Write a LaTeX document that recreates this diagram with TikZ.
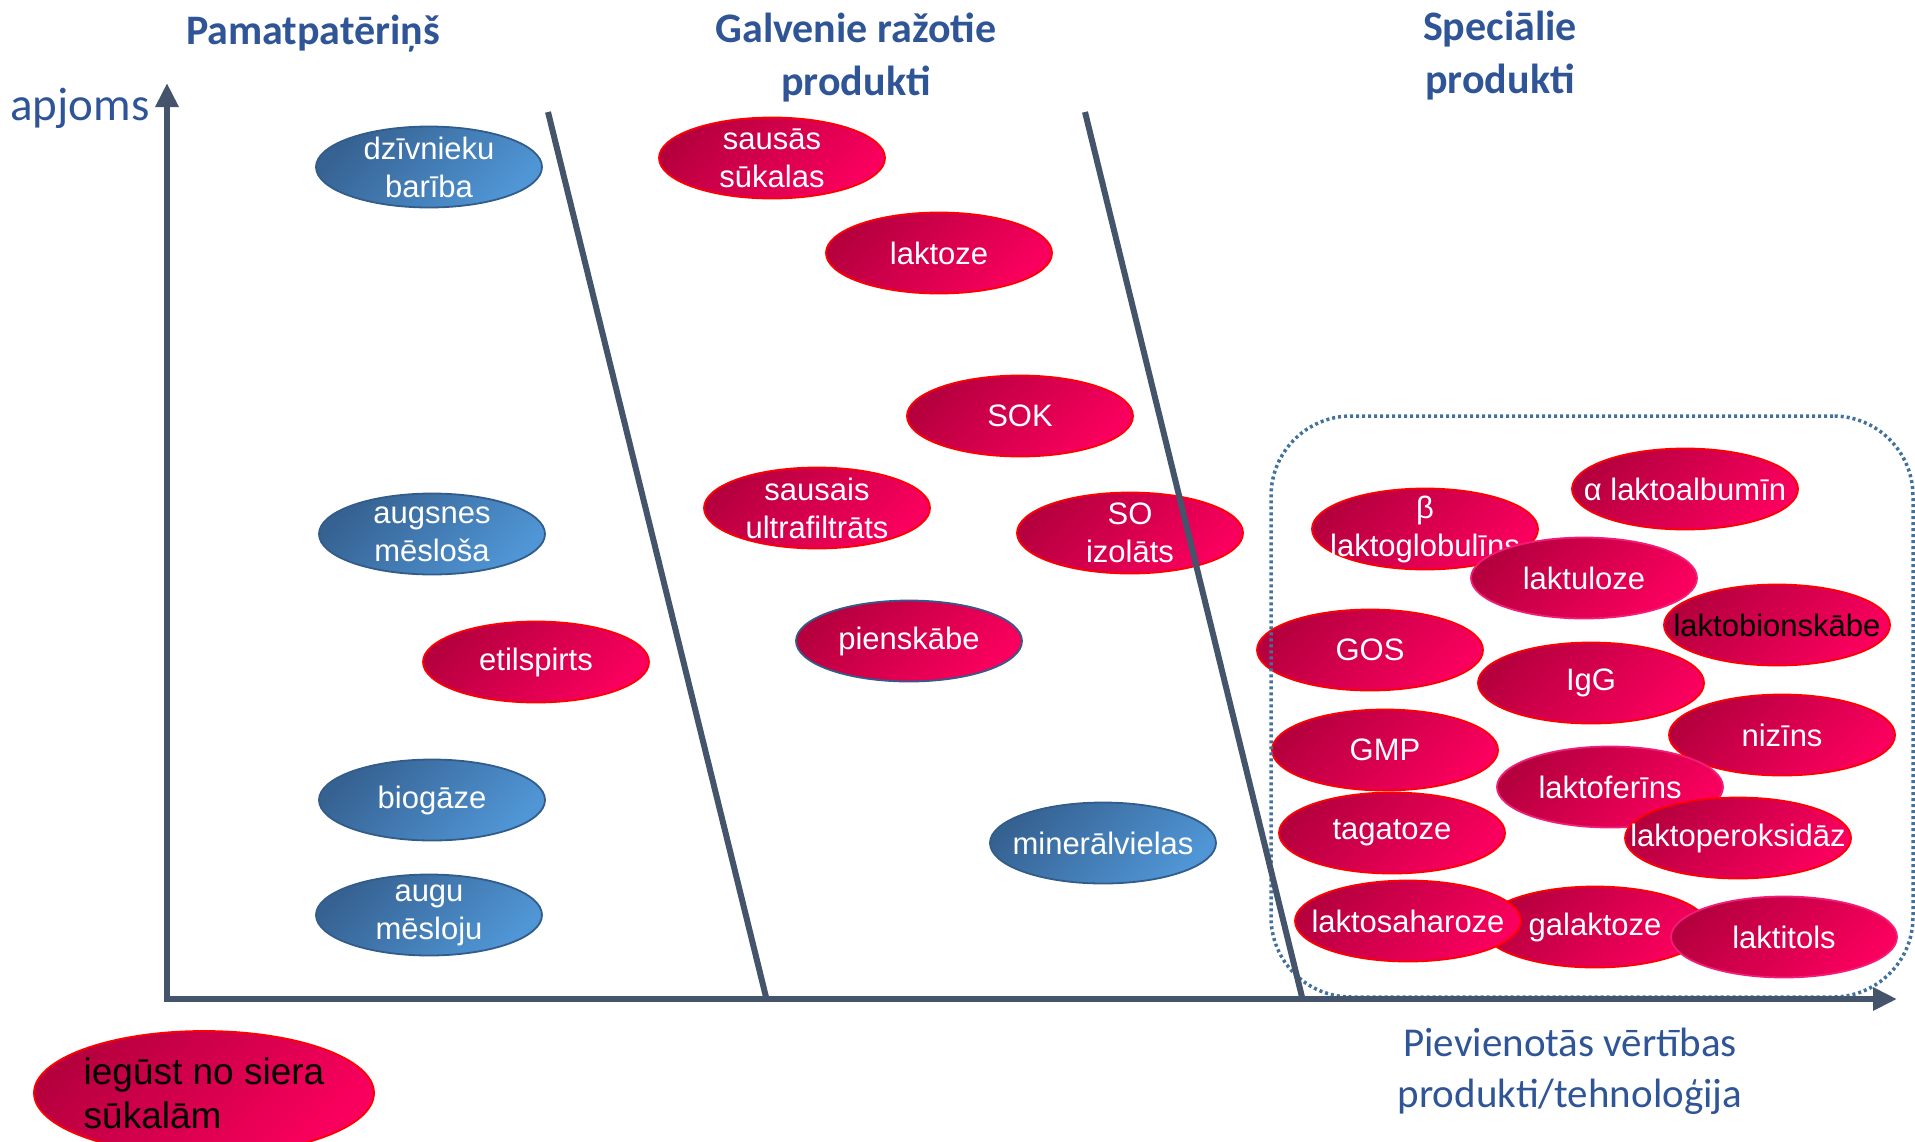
\documentclass[tikz,border=0pt]{standalone}
\usepackage{fontspec}
\setmainfont{Liberation Sans}
\newfontfamily\headfont{Carlito}
\usetikzlibrary{shapes.geometric,arrows.meta}

\definecolor{axisgray}{RGB}{68,84,106}
\definecolor{headblue}{RGB}{47,85,151}
\definecolor{boxblue}{RGB}{65,113,156}
\definecolor{redA}{RGB}{182,0,62}
\definecolor{redB}{RGB}{250,0,94}
\definecolor{rededge}{RGB}{255,0,0}
\definecolor{pinkedge}{RGB}{240,30,120}
\definecolor{blueA}{RGB}{54,98,146}
\definecolor{blueB}{RGB}{80,150,214}
\definecolor{blueedge}{RGB}{50,92,138}

\begin{document}
\begin{tikzpicture}[x=1pt, y=-1pt,
        every node/.style={
        inner sep=0pt, align=center, text=white, font=\fontsize{31}{38}\selectfont}
    ]
    \tikzstyle {oval} = [ellipse, minimum width=226pt, minimum height=81pt,
        inner xsep=-45pt, inner ysep=-14pt, line width=1.8pt]
    \tikzstyle {blue_oval} = [oval, draw=blueedge, top color=blueA, bottom color=blueB, shading angle=45]
    \tikzstyle {red_oval} = [oval, draw=rededge, top color=redA, bottom color=redB, shading angle=45]
    \tikzstyle {pink_oval} = [red_oval, draw=pinkedge]
    \tikzstyle {head} = [text=headblue, font=\headfont\bfseries\fontsize{42}{53}\selectfont]
    \tikzstyle {axis_label} = [text=headblue, font=\headfont\fontsize{41}{51}\selectfont]
    \tikzstyle {axis_line} = [draw=axisgray, line width=6.5pt]
    \tikzstyle {divider} = [draw=axisgray, line width=6pt]

    \useasboundingbox (0,0) rectangle (1915,1141);

    % pamatpatēriņš
    \node [blue_oval] (dzivn) at (429,167) {dzīvnieku\\barība};
    \node [blue_oval] (augsn) at (432,534) {augsnes\\mēsloša};
    \node [red_oval] (etil) at (536,662) {etilspirts};
    \node [blue_oval] (biog) at (432,800) {biogāze};
    \node [blue_oval] (augu) at (429,915) {augu\\mēsloju};

    % galvenie produkti
    \node [red_oval] (sausas) at (772,158) {sausās\\sūkalas};
    \node [red_oval] (laktoze) at (939,253) {laktoze};
    \node [red_oval] (sok) at (1020,416) {SOK};
    \node [red_oval] (ultra) at (817,508) {sausais\\ultrafiltrāts};
    \node [red_oval] (soiz) at (1130,533) {SO\\izolāts};
    \node [red_oval, draw=blueedge] (piensk) at (909,641) {pienskābe};
    \node [blue_oval] (miner) at (1103,843) {minerālvielas};

    % speciālie produkti
    \node [red_oval] (alfa) at (1685,489) {α laktoalbumīn};
    \node [red_oval] (beta) at (1425,529) {β\\laktoglobulīns};
    \node [pink_oval] (laktul) at (1584,578) {laktuloze};
    \node [red_oval, text=black] (bion) at (1777,625) {laktobionskābe};
    \node [red_oval] (gos) at (1370,650) {GOS};
    \node [red_oval] (igg) at (1591,683) {IgG};
    \node [red_oval] (nizins) at (1782,735) {nizīns};
    \node [red_oval] (gmp) at (1385,750) {GMP};
    \node [pink_oval] (lferins) at (1610,787) {laktoferīns};
    \node [red_oval] (tagat) at (1392,833) {tagatoze};
    \node [red_oval] (lperoks) at (1738,838) {laktoperoksidāz};
    \node [red_oval] (galakt) at (1595,927) {galaktoze};
    \node [red_oval] (lsahar) at (1408,921) {laktosaharoze};
    \node [pink_oval] (laktit) at (1784,937) {laktitols};

    \node [draw=boxblue, line width=3.5pt, dash pattern=on 3pt off 3pt,
        rounded corners=80pt, minimum width=642pt, minimum height=581pt] (special) at (1592,706.5) {};

    \coordinate (d1top) at (548,112);
    \coordinate (d1bot) at (766,997);
    \coordinate (d2top) at (1085,112);
    \coordinate (d2bot) at (1302,997);
    \draw [divider] (d1top) -- (d1bot);
    \draw [divider] (d2top) -- (d2bot);

    \coordinate (origin) at (167,999);
    \coordinate (ytop) at (167,83);
    \coordinate (xend) at (1897,999);
    \draw [axis_line, {Triangle[length=24pt,width=22pt]}-{Triangle[length=24pt,width=22pt]}]
        (ytop) -- (origin) -- (xend);

    \node [head] (h1) at (313,34) {Pamatpatēriņš};
    \node [head] (h2) at (856,58) {Galvenie ražotie\\produkti};
    \node [head] (h3) at (1500,56) {Speciālie\\produkti};
    \node [axis_label, font=\headfont\fontsize{47}{56}\selectfont] (ylab) at (80,108) {apjoms};
    \node [axis_label] (xlab) at (1570,1071) {Pievienotās vērtības\\produkti/tehnoloģija};

    \node [ellipse, draw=rededge, line width=1.8pt, top color=redA, bottom color=redB, shading angle=45,
        minimum width=340pt, minimum height=124pt, inner xsep=-10pt, align=left, text=black,
        font=\fontsize{37}{44}\selectfont] (legend) at (204,1093) {iegūst no siera\\sūkalām};
\end{tikzpicture}
\end{document}
